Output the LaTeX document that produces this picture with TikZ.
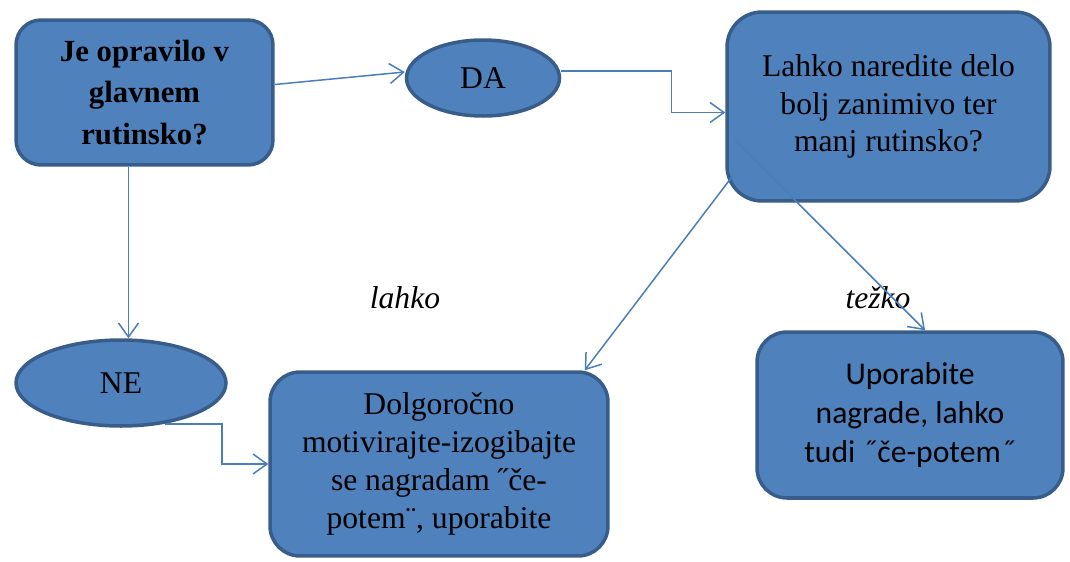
\documentclass[tikz,border=0pt]{standalone}
\usepackage{fontspec}
\setmainfont{Liberation Serif}
\newfontfamily\calibri{Carlito}
\usetikzlibrary{shapes.geometric,arrows.meta,calc}
\definecolor{boxfill}{HTML}{4F81BD}
\definecolor{boxline}{HTML}{385D8A}
\definecolor{conline}{HTML}{4A7EBB}
\tikzset{
  box/.style={draw=boxline,fill=boxfill,line width=2pt,rounded corners=0.6cm,align=center,inner sep=0pt,
    font=\fontsize{18}{21.5}\selectfont},
  oval/.style={ellipse,draw=boxline,fill=boxfill,line width=2pt,inner sep=0pt,
    font=\fontsize{18}{21.5}\selectfont},
  lbl/.style={inner sep=1pt,font=\fontsize{18}{21.5}\selectfont\itshape},
  conn/.style={draw=conline,line width=0.85pt,-{Straight Barb[length=0.28cm,width=0.4cm]}}
}
\begin{document}
\begin{tikzpicture}[x=0.02cm,y=-0.02cm]
  \useasboundingbox (0,0) rectangle (1070,561);
  \node[box,rounded corners=0.5cm,minimum width=5.14cm,minimum height=2.9cm,
    font=\fontsize{17.5}{23.5}\selectfont\bfseries] (A) at (144.5,92.5) {Je opravilo v\\glavnem\\rutinsko?};
  \node[oval,minimum width=3.06cm,minimum height=1.52cm] (DA) at (483,78) {DA};
  \node[box,rounded corners=0.7cm,minimum width=6.46cm,minimum height=3.78cm] (B) at (888.5,106.5)
    {Lahko naredite delo\\bolj zanimivo ter\\manj rutinsko?};
  \node[oval,minimum width=4.2cm,minimum height=1.72cm] (NE) at (121,383) {NE};
  \node[box,minimum width=6.76cm,minimum height=3.68cm] (C) at (439,464)
    {Dolgoročno\\motivirajte-izogibajte\\se nagradam ˝če-\\potem¨, uporabite};
  \node[box,minimum width=6.12cm,minimum height=3.32cm,font=\calibri\fontsize{18}{22}\selectfont] (D) at (910,415)
    {Uporabite\\nagrade, lahko\\tudi ˝če-potem˝};
  \node[lbl] (lk) at (405,298) {lahko};
  \node[lbl] (tz) at (878,298) {težko};
  \coordinate (a1) at ($(A.south)+(-16,0)$);
  \coordinate (b1) at ($(B.west)+(10,34)$);
  \coordinate (b2) at ($(B.west)+(10,66)$);
  \draw[conn] ($(A.east)+(0,-8)$) -- ($(DA.west)+(0,-6)$);
  \draw[conn] ($(DA.east)+(0,-7)$) -- ++(110,0) |- ($(B.west)+(0,6)$);
  \draw[conn] (a1) -- (a1 |- NE.north);
  \draw[conn] (NE.-43) -- ++(57,0) |- (C.west);
  \draw[conn] (b1) -- ($(D.north)+(15,0)$);
  \draw[conn] (b2) -- ($(C.north east)+(-25,0)$);
\end{tikzpicture}
\end{document}
